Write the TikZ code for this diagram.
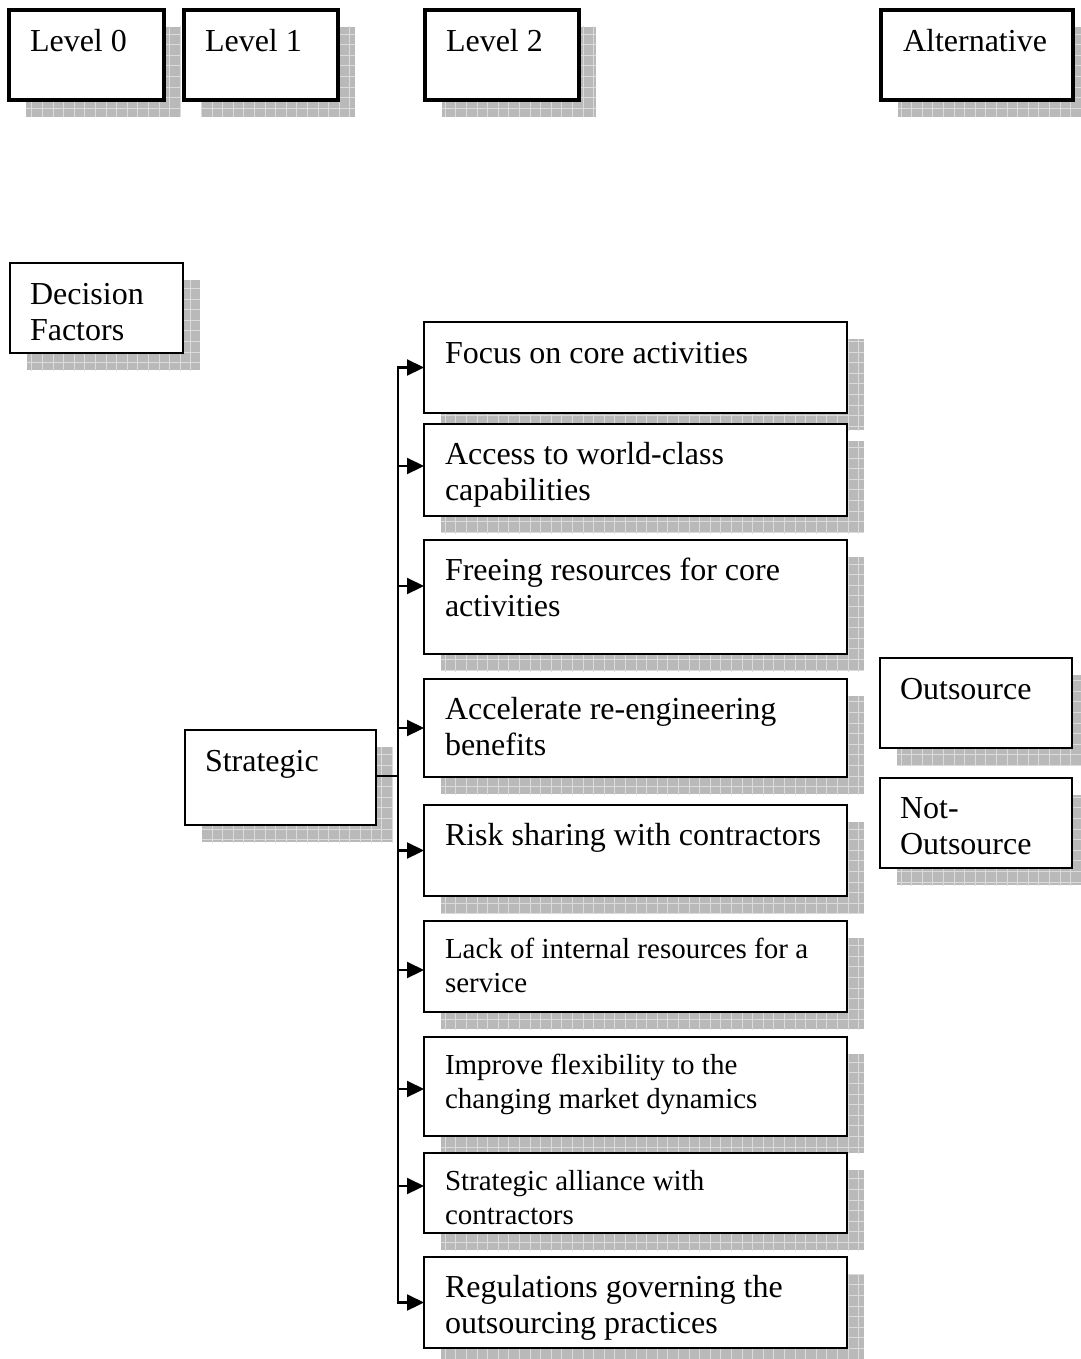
\documentclass[tikz,border=0pt]{standalone}
\usepackage{fontspec}
\setmainfont{Liberation Serif}
\usetikzlibrary{arrows.meta,backgrounds,patterns.meta}

% text sizes: regular labels and the slightly smaller ones
\newcommand\txtL{\fontsize{32}{36.5}\selectfont}
\newcommand\txtS{\fontsize{29}{34}\selectfont}
% stacked lines whose reference point is the first baseline
\newcommand\stack[1]{\begin{tabular}[t]{@{}l@{}}#1\end{tabular}}

% square mesh laid over the grey drop shadows
\pgfdeclarepattern{
  name=meshgrid,
  type=uncolored,
  bottom left={\pgfpoint{-1pt}{-1pt}},
  top right={\pgfpoint{11pt}{11pt}},
  tile size={\pgfpoint{10.6pt}{10.6pt}},
  code={
    \pgfsetlinewidth{0.9pt}
    \pgfpathmoveto{\pgfpoint{0pt}{0pt}}\pgfpathlineto{\pgfpoint{10.6pt}{0pt}}
    \pgfpathmoveto{\pgfpoint{0pt}{0pt}}\pgfpathlineto{\pgfpoint{0pt}{10.6pt}}
    \pgfusepath{stroke}
  }
}

\tikzset{
  bx/.style={draw, line width=2pt, fill=white, inner sep=0pt, outer sep=0pt,
             anchor=north west},
  bxthick/.style={bx, line width=4pt},
  tx/.style={anchor=base west, inner sep=0pt, outer sep=0pt, font=\txtL},
  txs/.style={tx, font=\txtS},
  link/.style={line width=2.2pt},
  arr/.style={link, -{Triangle[length=17pt,width=16pt]}},
  shade/.style={fill=gray!55},
  mesh/.style={pattern=meshgrid, pattern color=gray!28},
}

\begin{document}
\begin{tikzpicture}[x=1pt,y=-1pt]
\useasboundingbox (0,0) rectangle (1080,1359);

% ---- header row
\node[bxthick, minimum width=155pt, minimum height=90pt] (l0) at (9,10) {};
\node[bxthick, minimum width=154pt, minimum height=90pt] (l1) at (184,10) {};
\node[bxthick, minimum width=154pt, minimum height=90pt] (l2) at (425,10) {};
\node[bxthick, minimum width=192pt, minimum height=90pt] (alt) at (881,10) {};

% ---- left column
\node[bx, minimum width=173pt, minimum height=90pt] (df) at (10,263) {};
\node[bx, minimum width=191pt, minimum height=95pt] (st) at (185,730) {};

% ---- decision factors
\node[bx, minimum width=423pt, minimum height=91pt]  (f1) at (424,322) {};
\node[bx, minimum width=423pt, minimum height=92pt]  (f2) at (424,424) {};
\node[bx, minimum width=423pt, minimum height=114pt] (f3) at (424,540) {};
\node[bx, minimum width=423pt, minimum height=98pt]  (f4) at (424,679) {};
\node[bx, minimum width=423pt, minimum height=91pt]  (f5) at (424,805) {};
\node[bx, minimum width=423pt, minimum height=91pt]  (f6) at (424,921) {};
\node[bx, minimum width=423pt, minimum height=99pt]  (f7) at (424,1037) {};
\node[bx, minimum width=423pt, minimum height=80pt]  (f8) at (424,1153) {};
\node[bx, minimum width=423pt, minimum height=91pt]  (f9) at (424,1257) {};

% ---- alternatives
\node[bx, minimum width=192pt, minimum height=90pt] (out) at (880,658) {};
\node[bx, minimum width=192pt, minimum height=90pt] (nout) at (880,778) {};

% ---- drop shadows behind every box
\begin{scope}[on background layer]
\foreach \n in {l0,l1,l2,alt,df,st,f1,f2,f3,f4,f5,f6,f7,f8,f9,out,nout}{
  \fill[shade] ([shift={(17,17)}]\n.north west) rectangle ([shift={(17,17)}]\n.south east);
  \fill[mesh]  ([shift={(17,17)}]\n.north west) rectangle ([shift={(17,17)}]\n.south east);
}
\end{scope}

% ---- labels
\node[tx] (l0t) at ([shift={(21,42)}]l0.north west) {Level 0};
\node[tx] (l1t) at ([shift={(21,42)}]l1.north west) {Level 1};
\node[tx] (l2t) at ([shift={(21,42)}]l2.north west) {Level 2};
\node[tx] (altt) at ([shift={(22,42)}]alt.north west) {Alternative};
\node[tx] (dft) at ([shift={(20,41)}]df.north west) {\stack{Decision\\Factors}};
\node[tx] (stt) at ([shift={(20,41)}]st.north west) {Strategic};

\node[tx]  (f1t) at ([shift={(21,41)}]f1.north west) {Focus on core activities};
\node[tx]  (f2t) at ([shift={(21,40)}]f2.north west) {\stack{Access to world-class\\capabilities}};
\node[tx]  (f3t) at ([shift={(21,40)}]f3.north west) {\stack{Freeing resources for core\\activities}};
\node[tx]  (f4t) at ([shift={(21,40)}]f4.north west) {\stack{Accelerate re-engineering\\benefits}};
\node[tx]  (f5t) at ([shift={(21,40)}]f5.north west) {Risk sharing with contractors};
\node[txs] (f6t) at ([shift={(21,37)}]f6.north west) {\stack{Lack of internal resources for a\\service}};
\node[txs] (f7t) at ([shift={(21,37)}]f7.north west) {\stack{Improve flexibility to the\\changing market dynamics}};
\node[txs] (f8t) at ([shift={(21,37)}]f8.north west) {\stack{Strategic alliance with\\contractors}};
\node[tx]  (f9t) at ([shift={(21,40)}]f9.north west) {\stack{Regulations governing the\\outsourcing practices}};

\node[tx] (outt) at ([shift={(20,41)}]out.north west) {Outsource};
\node[tx] (noutt) at ([shift={(20,40)}]nout.north west) {\stack{Not-\\Outsource}};

% ---- connectors from Strategic to each factor
\coordinate (jn) at ([xshift=22pt,yshift=1.5pt]st.east);
\draw[link] ([yshift=1.5pt]st.east) -- (jn);
\draw[arr] (jn) |- (f1.west);
\draw[arr] (jn) |- ([yshift=4pt]f2.west);
\draw[arr] (jn) |- ([yshift=11pt]f3.west);
\draw[arr] (jn) |- (f4.west);
\draw[arr] (jn) |- (f5.west);
\draw[arr] (jn) |- ([yshift=-3.5pt]f6.west);
\draw[arr] (jn) |- ([yshift=-2.5pt]f7.west);
\draw[arr] (jn) |- ([yshift=7pt]f8.west);
\draw[arr] (jn) |- (f9.west);
\end{tikzpicture}
\end{document}
